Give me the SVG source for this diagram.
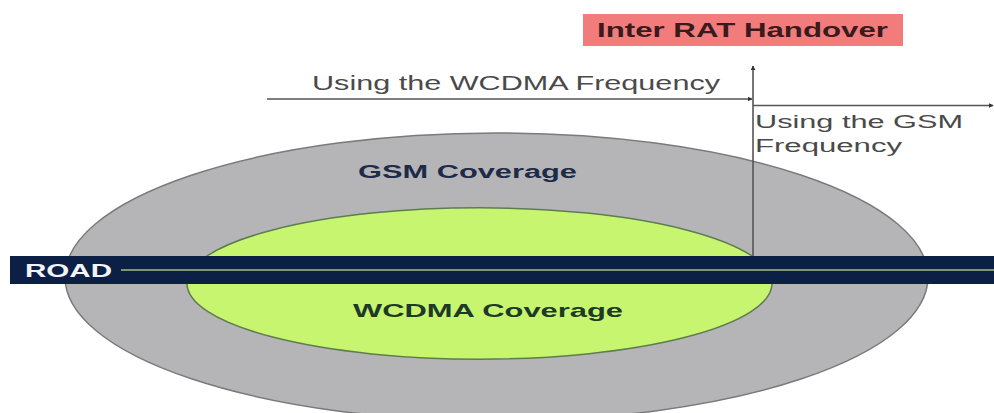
<svg xmlns="http://www.w3.org/2000/svg" width="994" height="413" viewBox="0 0 994 413">
  <defs>
    <marker id="tip" viewBox="0 0 8 8" refX="7" refY="4" markerWidth="5" markerHeight="5" orient="auto" markerUnits="userSpaceOnUse">
      <path d="M0,0 L8,4 L0,8 Z" fill="#333"/>
    </marker>
    <style>
      .lbl { font-family: "Liberation Sans", Arial, sans-serif; fill: #4a4a4a; }
      .bold { font-family: "Liberation Sans", Arial, sans-serif; font-weight: bold; }
      .conn { stroke: #555; stroke-width: 1.6; fill: none; }
    </style>
  </defs>

  <rect width="994" height="413" fill="#ffffff"/>

  <!-- GSM coverage area -->
  <g id="gsm-coverage">
    <ellipse cx="496.5" cy="277" rx="431.5" ry="144" fill="#b5b5b7" stroke="#7a7a7a" stroke-width="1.5"/>
    <text class="bold" x="358" y="178" font-size="18" fill="#1e2b48" textLength="219" lengthAdjust="spacingAndGlyphs">GSM Coverage</text>
  </g>

  <!-- WCDMA coverage area -->
  <g id="wcdma-coverage">
    <ellipse cx="479.5" cy="283.5" rx="292.5" ry="75.7" fill="#c8f570" stroke="#5e7c50" stroke-width="1.5"/>
    <text class="bold" x="353" y="317" font-size="19" fill="#1c3a26" textLength="270" lengthAdjust="spacingAndGlyphs">WCDMA Coverage</text>
  </g>

  <!-- Road -->
  <g id="road">
    <rect x="10" y="256" width="984" height="28" fill="#0c1f45"/>
    <line x1="121" y1="270" x2="994" y2="270" stroke="#7d9478" stroke-width="1.8"/>
    <text class="bold" x="25" y="277" font-size="18" fill="#f2f4f8" textLength="87" lengthAdjust="spacingAndGlyphs">ROAD</text>
  </g>

  <!-- Handover title -->
  <g id="handover-title">
    <rect x="583" y="14" width="320" height="32" fill="#f27c7c"/>
    <text class="bold" x="597" y="37" font-size="19.5" fill="#3a1a1c" textLength="291" lengthAdjust="spacingAndGlyphs">Inter RAT Handover</text>
  </g>

  <!-- Frequency labels -->
  <g id="wcdma-frequency">
    <text class="lbl" x="312" y="90" font-size="21" textLength="408" lengthAdjust="spacingAndGlyphs">Using the WCDMA Frequency</text>
  </g>
  <g id="gsm-frequency">
    <text class="lbl" x="755" y="128" font-size="18" textLength="208" lengthAdjust="spacingAndGlyphs">Using the GSM</text>
    <text class="lbl" x="755" y="152" font-size="18" textLength="147" lengthAdjust="spacingAndGlyphs">Frequency</text>
  </g>

  <!-- Connectors -->
  <g id="connectors">
    <line class="conn" x1="753" y1="256" x2="753" y2="66" marker-end="url(#tip)"/>
    <line class="conn" x1="267" y1="99" x2="752" y2="99" marker-end="url(#tip)"/>
    <line class="conn" x1="753" y1="105.5" x2="993" y2="105.5" marker-end="url(#tip)"/>
  </g>
</svg>
